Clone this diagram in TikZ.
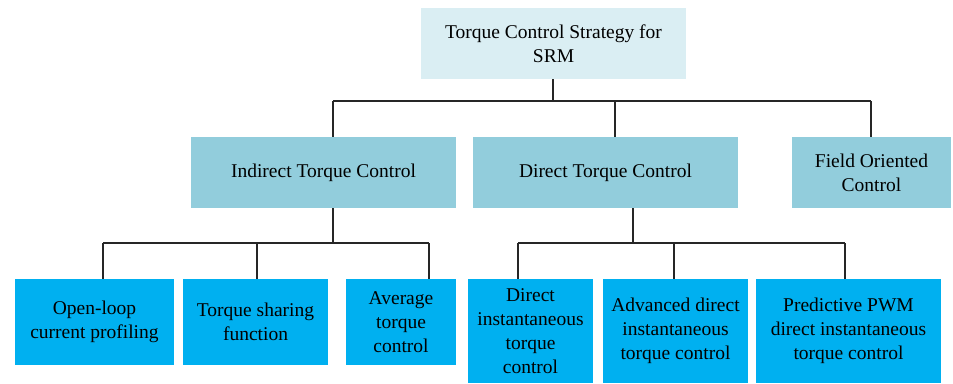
\documentclass[tikz,border=0pt]{standalone}
\usepackage{fontspec}
\setmainfont{Liberation Serif}
\definecolor{rootfill}{HTML}{DAEEF3}
\definecolor{midfill}{HTML}{92CDDC}
\definecolor{leaffill}{HTML}{00B0F0}
\tikzset{
  box/.style={inner sep=0pt, align=center, text=black,
    font=\fontsize{19.5}{24}\selectfont},
  rootbox/.style={box, fill=rootfill},
  midbox/.style={box, fill=midfill},
  leafbox/.style={box, fill=leaffill},
  link/.style={draw=black!85, line width=1.2pt}
}
\begin{document}
\begin{tikzpicture}[x=1pt,y=-1pt]
  \useasboundingbox (0,0) rectangle (953,383);

  % root
  \node[rootbox, minimum width=265pt, minimum height=71pt] (top) at (553.5,43.5)
    {Torque Control Strategy for\\SRM};

  % second level
  \node[midbox, minimum width=265pt, minimum height=71pt] (ind) at (323.5,172.5)
    {Indirect Torque Control};
  \node[midbox, minimum width=265pt, minimum height=71pt] (dir) at (605.5,172.5)
    {Direct Torque Control};
  \node[midbox, minimum width=159pt, minimum height=71pt] (foc) at (871.5,172.5)
    {Field Oriented\\Control};

  % leaves under indirect control
  \node[leafbox, minimum width=159pt, minimum height=86pt] (ol) at (94.5,322)
    {Open-loop\\current profiling};
  \node[leafbox, minimum width=145pt, minimum height=86pt] (tsf) at (255.5,322)
    {Torque sharing\\function};
  \node[leafbox, minimum width=110pt, minimum height=86pt] (atc) at (401,322)
    {Average\\torque\\control};

  % leaves under direct control
  \node[leafbox, minimum width=125pt, minimum height=104pt] (ditc) at (530.5,331)
    {Direct\\instantaneous\\torque\\control};
  \node[leafbox, minimum width=145pt, minimum height=104pt] (aditc) at (675.5,331)
    {Advanced direct\\instantaneous\\torque control};
  \node[leafbox, minimum width=185pt, minimum height=104pt] (pwm) at (848.5,331)
    {Predictive PWM\\direct instantaneous\\torque control};

  % bus coordinates
  \coordinate (busA) at (553,101);
  \coordinate (busA1) at (333,101);
  \coordinate (busA2) at (615,101);
  \coordinate (busA3) at (871,101);
  \coordinate (busB) at (333,243);
  \coordinate (busB1) at (103,243);
  \coordinate (busB2) at (257,243);
  \coordinate (busB3) at (429,243);
  \coordinate (busC) at (633,243);
  \coordinate (busC1) at (518,243);
  \coordinate (busC2) at (674,243);
  \coordinate (busC3) at (845,243);

  % root to second level
  \draw[link] (busA |- top.south) -- (busA);
  \draw[link] (busA1) -- (busA3);
  \draw[link] (busA1) -- (busA1 |- ind.north);
  \draw[link] (busA2) -- (busA2 |- dir.north);
  \draw[link] (busA3) -- (busA3 |- foc.north);

  % indirect control to its leaves
  \draw[link] (busB |- ind.south) -- (busB);
  \draw[link] (busB1) -- (busB3);
  \draw[link] (busB1) -- (busB1 |- ol.north);
  \draw[link] (busB2) -- (busB2 |- tsf.north);
  \draw[link] (busB3) -- (busB3 |- atc.north);

  % direct control to its leaves
  \draw[link] (busC |- dir.south) -- (busC);
  \draw[link] (busC1) -- (busC3);
  \draw[link] (busC1) -- (busC1 |- ditc.north);
  \draw[link] (busC2) -- (busC2 |- aditc.north);
  \draw[link] (busC3) -- (busC3 |- pwm.north);
\end{tikzpicture}
\end{document}
